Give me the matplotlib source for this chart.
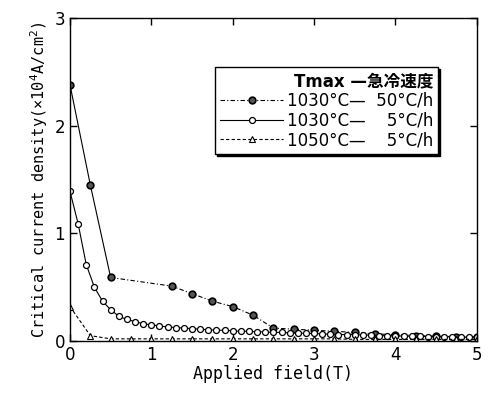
import matplotlib
matplotlib.use("Agg")
import matplotlib.pyplot as plt
from matplotlib.lines import Line2D

plt.rcParams['font.family'] = ['DejaVu Sans', 'Noto Sans CJK JP']

# 1030°C / 50°C/h
x_fast = [0, 0.25, 0.5, 1.25, 1.5, 1.75, 2.0, 2.25, 2.5, 2.75, 3.0, 3.25, 3.5,
          3.75, 4.0, 4.25, 4.5, 4.75, 5.0]
jc_fast = [2.38, 1.45, 0.59, 0.51, 0.44, 0.37, 0.32, 0.24, 0.12, 0.11, 0.10,
           0.09, 0.08, 0.065, 0.06, 0.05, 0.045, 0.04, 0.04]

# 1030°C / 5°C/h
x_slow = [0.0, 0.1, 0.2, 0.3, 0.4, 0.5, 0.6, 0.7, 0.8, 0.9,
          1.0, 1.1, 1.2, 1.3, 1.4, 1.5, 1.6, 1.7, 1.8, 1.9,
          2.0, 2.1, 2.2, 2.3, 2.4, 2.5, 2.6, 2.7, 2.8, 2.9,
          3.0, 3.1, 3.2, 3.3, 3.4, 3.5, 3.6, 3.7, 3.8, 3.9,
          4.0, 4.1, 4.2, 4.3, 4.4, 4.5, 4.6, 4.7, 4.8, 4.9, 5.0]
jc_slow = [1.39, 1.09, 0.71, 0.50, 0.37, 0.29, 0.23, 0.20, 0.18, 0.16,
           0.15, 0.14, 0.13, 0.125, 0.12, 0.115, 0.11, 0.105, 0.10, 0.10,
           0.095, 0.09, 0.09, 0.085, 0.085, 0.08, 0.08, 0.075, 0.075, 0.07,
           0.07, 0.065, 0.065, 0.06, 0.06, 0.06, 0.055, 0.055, 0.05, 0.05,
           0.05, 0.045, 0.045, 0.045, 0.04, 0.04, 0.04, 0.04, 0.035, 0.035, 0.035]

# 1050°C / 5°C/h
x_hot = [0, 0.25, 0.5, 0.75, 1.0, 1.25, 1.5, 1.75, 2.0, 2.25, 2.5, 2.75,
         3.0, 3.25, 3.5, 3.75, 4.0, 4.25, 4.5, 4.75, 5.0]
jc_hot = [0.32, 0.05, 0.02, 0.02, 0.02, 0.02, 0.02, 0.02, 0.02, 0.02, 0.02,
          0.02, 0.02, 0.02, 0.015, 0.015, 0.015, 0.015, 0.015, 0.015, 0.015]

legend_title = "Tmax —急冷速度"
labels = ["1030°C—  50°C/h", "1030°C—  \u20075°C/h", "1050°C—  \u20075°C/h"]

dashdot = (0, (4, 2, 1, 2))
dashed = (0, (3, 2))
fast_style = dict(color="black", lw=0.8, marker="o", ms=4.8, mfc="#555555",
                  mec="black", mew=1.2)
slow_style = dict(color="black", lw=0.8, marker="o", ms=4.3, mfc="white",
                  mec="black", mew=0.9)
hot_style = dict(color="black", lw=0.8, marker="^", ms=5, mfc="white",
                 mec="black", mew=0.8)

fig = plt.figure(figsize=(4.88, 3.94), dpi=100)
ax = fig.add_axes([0.1434, 0.1345, 0.8336, 0.8198])

# fast-cooled sample: steep part solid, tail dash-dot
ax.plot(x_fast[:3], jc_fast[:3], color="black", lw=0.8)
ax.plot(x_fast[2:], jc_fast[2:], ls=dashdot, **{**fast_style, "marker": None})
ax.plot(x_fast, jc_fast, ls="none", **fast_style)
ax.plot(x_slow, jc_slow, **slow_style)
ax.plot(x_hot, jc_hot, ls=dashed, **hot_style)

handles = [Line2D([], [], ls=dashdot, **fast_style),
           Line2D([], [], **slow_style),
           Line2D([], [], ls=dashed, **hot_style)]
leg = ax.legend(handles, labels, title=legend_title, loc="upper right",
                bbox_to_anchor=(0.905, 0.848), fontsize=12,
                title_fontproperties={"family": ["DejaVu Sans", "Noto Sans CJK JP"],
                                      "size": 12},
                alignment="right", fancybox=False, framealpha=1,
                edgecolor="black", handlelength=3.8, handletextpad=0.2,
                labelspacing=0.1, borderpad=0.3, borderaxespad=0,
                shadow={"color": "black", "alpha": 1, "ox": 1.5, "oy": -1.5})
leg.get_frame().set_linewidth(1.0)
leg.get_title().set_weight("bold")

ax.set_xlim(0, 5)
ax.set_ylim(0, 3)
ax.set_xticks([0, 1, 2, 3, 4, 5])
ax.set_yticks([0, 1, 2, 3])
ax.tick_params(direction="in", length=5, width=1, top=True, right=True,
               labelsize=12)
for s in ax.spines.values():
    s.set_linewidth(1.0)

ax.set_xlabel("Applied field(T)", family="DejaVu Sans Mono", fontsize=12,
              labelpad=1)
ax.set_ylabel("Critical current density(×10$^4$A/cm$^2$)",
              family="DejaVu Sans Mono", fontsize=11, labelpad=3)

fig.savefig("out.png", dpi=100)
